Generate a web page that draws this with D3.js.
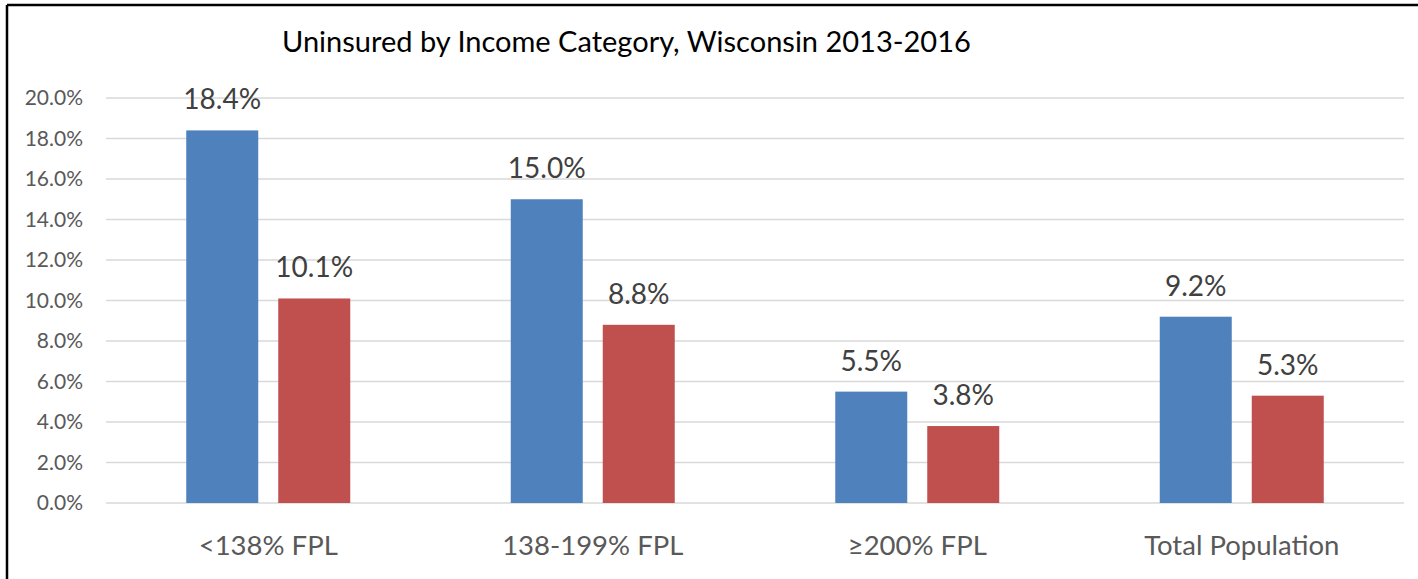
<!DOCTYPE html>
<html lang="en">
<head>
    <meta charset="UTF-8">
    <title>Uninsured by Income Category</title>
    <script src="https://d3js.org/d3.v7.min.js"></script>
    <style>
        body { margin: 0; background: #fff; }
        text { font-family: Lato, "Open Sans", sans-serif; }
    </style>
</head>
<body>
    <div id="chart"></div>
    <script>
        // data
        var categories = ["<138% FPL", "138-199% FPL", "\u2265200% FPL", "Total Population"]
        var series = ["2013", "2016"]
        var values2013 = [0.184, 0.150, 0.055, 0.092]
        var values2016 = [0.101, 0.088, 0.038, 0.053]
        var yTicks = [0, 0.02, 0.04, 0.06, 0.08, 0.10, 0.12, 0.14, 0.16, 0.18, 0.20]

        var width = 1418, height = 579
        var plotLeft = 106, plotRight = 1404, plotTop = 98, plotBottom = 503
        var colors = { "2013": "#4F81BD", "2016": "#C0504D" }

        var svg = d3.select("#chart").append("svg")
            .attr("width", width)
            .attr("height", height)

        // frame (only top and left edges are visible)
        svg.append("line").attr("x1", 7).attr("x2", width).attr("y1", 5).attr("y2", 5)
            .attr("stroke", "#000").attr("stroke-width", 2.5)
        svg.append("line").attr("x1", 7).attr("x2", 7).attr("y1", 5).attr("y2", height)
            .attr("stroke", "#000").attr("stroke-width", 2.5)

        svg.append("text")
            .attr("x", 282).attr("y", 52)
            .attr("font-size", 29)
            .attr("fill", "#000")
            .text("Uninsured by Income Category, Wisconsin 2013-2016")

        var x = d3.scaleBand().domain(categories).range([plotLeft, plotRight]).padding(0)
        var groupW = 164
        var xs = d3.scaleBand().domain(series)
            .range([(x.bandwidth() - groupW) / 2, (x.bandwidth() + groupW) / 2])
            .paddingInner(20 / 92).paddingOuter(0)
        var y = d3.scaleLinear().domain([0, 0.20]).range([plotBottom, plotTop])

        // gridlines
        svg.append("g")
            .selectAll("line")
            .data(yTicks)
            .enter().append("line")
            .attr("x1", plotLeft).attr("x2", plotRight)
            .attr("y1", function(d) { return y(d) })
            .attr("y2", function(d) { return y(d) })
            .attr("stroke", "#d9d9d9")
            .attr("stroke-width", 1.5)

        var yAxis = svg.append("g")
            .attr("transform", "translate(" + (plotLeft - 23) + ",0)")
            .call(d3.axisLeft(y).tickValues(yTicks).tickFormat(d3.format(".1%")).tickSize(0).tickPadding(0))
        yAxis.select(".domain").remove()
        yAxis.selectAll("text")
            .attr("font-size", 21)
            .attr("fill", "#595959")
            .attr("font-family", "Lato, sans-serif")

        var rows = categories.map(function(c, i) {
            return { cat: c, vals: [{ s: "2013", v: values2013[i] }, { s: "2016", v: values2016[i] }] }
        })

        var groups = svg.selectAll(".grp")
            .data(rows)
            .enter().append("g")
            .attr("class", "grp")
            .attr("transform", function(d) { return "translate(" + x(d.cat) + ",0)" })

        groups.selectAll("rect")
            .data(function(d) { return d.vals })
            .enter().append("rect")
            .attr("x", function(d) { return xs(d.s) })
            .attr("width", xs.bandwidth())
            .attr("y", function(d) { return y(d.v) })
            .attr("height", function(d) { return plotBottom - y(d.v) })
            .attr("fill", function(d) { return colors[d.s] })

        groups.selectAll(".lbl")
            .data(function(d) { return d.vals })
            .enter().append("text")
            .attr("class", "lbl")
            .attr("x", function(d) { return xs(d.s) + xs.bandwidth() / 2 })
            .attr("y", function(d) { return y(d.v) - 21 })
            .attr("text-anchor", "middle")
            .attr("font-size", 28)
            .attr("fill", "#404040")
            .text(function(d) { return d3.format(".1%")(d.v) })

        var xAxis = svg.append("g")
            .attr("transform", "translate(0," + plotBottom + ")")
            .call(d3.axisBottom(x).tickSize(0).tickPadding(0))
        xAxis.select(".domain").remove()
        xAxis.selectAll("text")
            .attr("dy", 0)
            .attr("y", 52)
            .attr("font-size", 27.5)
            .attr("fill", "#595959")
            .attr("font-family", "Lato, sans-serif")
    </script>
</body>
</html>
